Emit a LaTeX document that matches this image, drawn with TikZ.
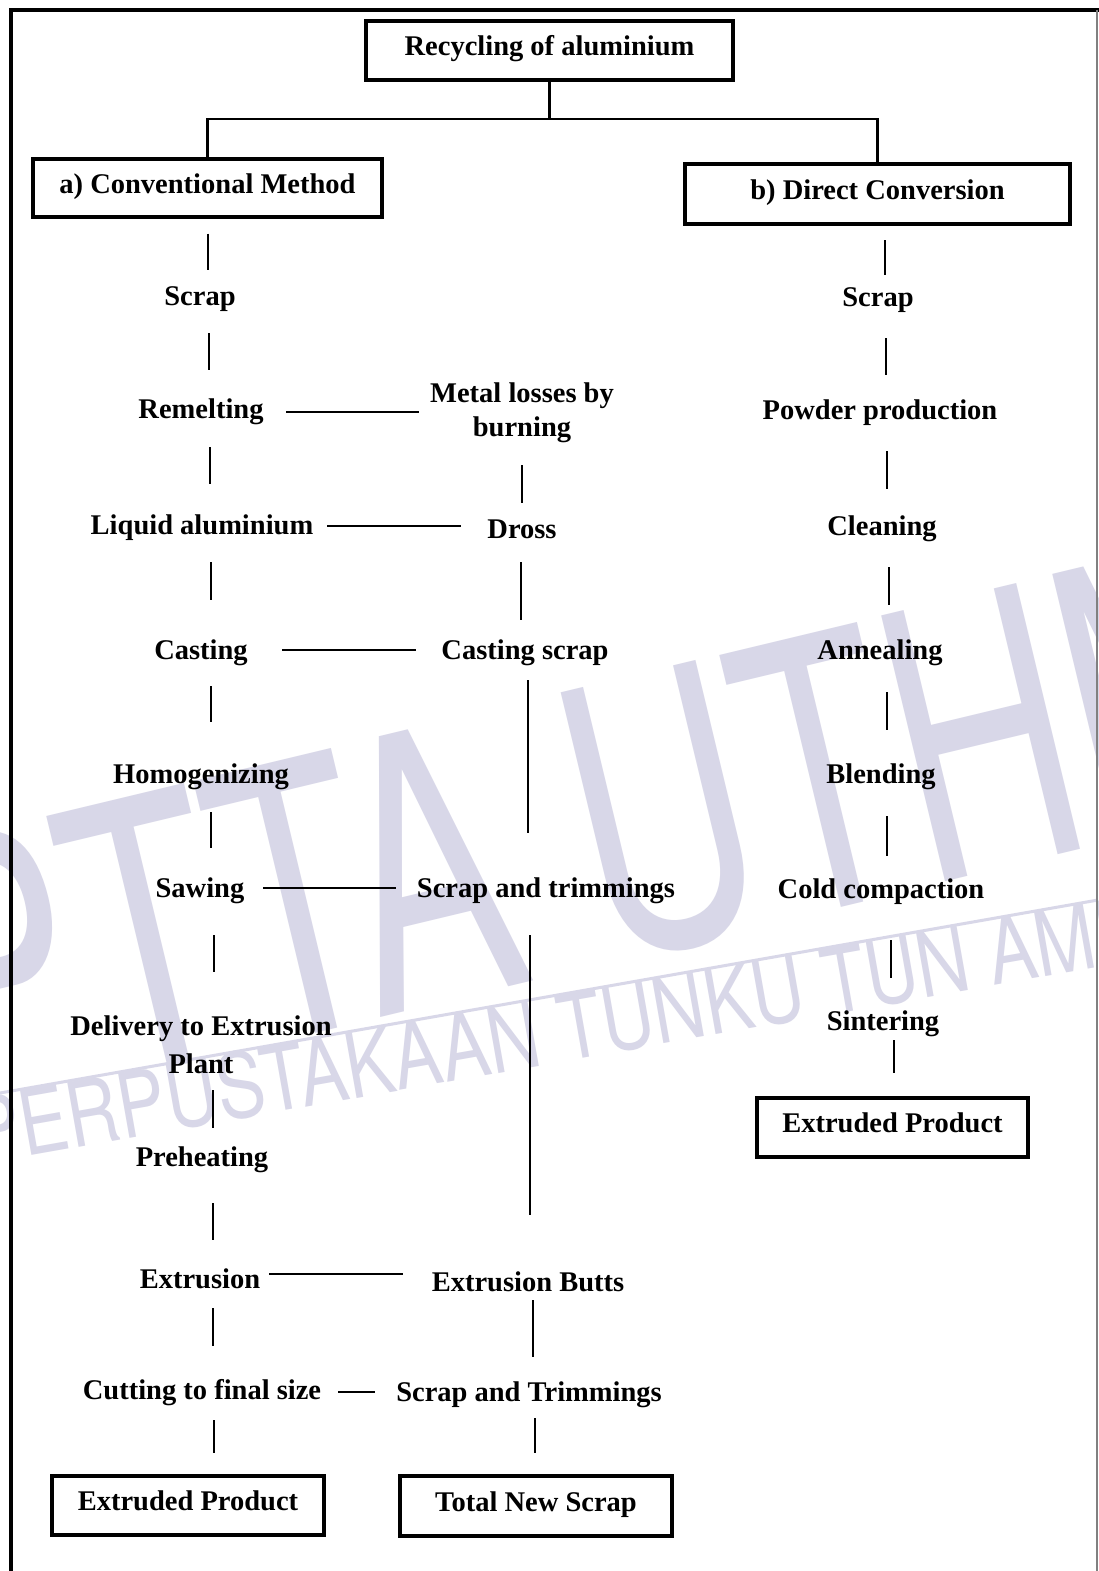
\documentclass[tikz,border=0pt]{standalone}
\usepackage{fontspec}
\setmainfont{Liberation Serif}
\newfontfamily\wmfont{TeX Gyre Heros}
\usetikzlibrary{calc}
\definecolor{wm}{RGB}{216,215,232}
\newcommand\lblfont{\fontsize{28.5}{34}\selectfont\bfseries}
\tikzset{
  lbl/.style={anchor=base, inner sep=0pt, font=\lblfont},
  boxnode/.style={draw, line width=4pt, inner sep=0pt, text height=20pt, text depth=10pt, font=\lblfont},
  conn/.style={line width=2.8pt},
  wmtext/.style={text=wm, inner sep=0pt, anchor=base west},
}
\begin{document}
\begin{tikzpicture}[x=1pt,y=-1pt]
\useasboundingbox (0,0) rectangle (1098,1571);
\fill[white] (0,0) rectangle (1098,1571);
% watermark
\node[wmtext, rotate=13.5] (wmbig) at (-55,1122) {\scalebox{0.66}[1]{\wmfont\fontsize{375}{400}\selectfont PTTA UTHM}};
\node[wmtext, rotate=10] (wmsmall) at (-22,1165) {\scalebox{0.8}[1]{\wmfont\fontsize{90}{100}\selectfont PERPUSTAKAAN TUNKU TUN AMINAH}};
\draw[wm, line width=3pt] (0,1093) -- (1098,900);
% frame
\draw[line width=4pt] (11,1580) -- (11,10) -- (1100,10);
\draw[gray, line width=1.5pt] (1097,10) -- (1097,1580);
% boxes
\node[boxnode, minimum width=367pt, minimum height=59pt] (top) at (549.5,50.5) {Recycling of aluminium};
\node[boxnode, minimum width=349pt, minimum height=58pt] (conv) at (207.5,188) {a) Conventional Method};
\node[boxnode, minimum width=385pt, minimum height=60pt] (dc) at (877.5,194) {b) Direct Conversion};
\node[boxnode, minimum width=271pt, minimum height=59pt] (prodB) at (892.5,1127.5) {Extruded Product};
\node[boxnode, minimum width=272pt, minimum height=59pt] (prodA) at (188,1505.5) {Extruded Product};
\node[boxnode, minimum width=272pt, minimum height=60pt] (newscrap) at (536,1506) {Total New Scrap};
% left column
\node[lbl] (scrapA) at (200,305) {Scrap};
\node[lbl] (remelt) at (201,418) {Remelting};
\node[lbl] (liquid) at (202,534) {Liquid aluminium};
\node[lbl] (casting) at (201,659) {Casting};
\node[lbl] (homog) at (201,783) {Homogenizing};
\node[lbl] (sawing) at (200,897) {Sawing};
\node[lbl] (delivery) at (201,1035) {\renewcommand{\arraystretch}{1.118}\begin{tabular}[t]{@{}c@{}}Delivery to Extrusion\\Plant\end{tabular}};
\node[lbl] (preheat) at (202,1166) {Preheating};
\node[lbl] (extrA) at (200,1288) {Extrusion};
\node[lbl] (cutting) at (202,1399) {Cutting to final size};
% middle column
\node[lbl] (metal) at (522,402) {\begin{tabular}[t]{@{}c@{}}Metal losses by\\burning\end{tabular}};
\node[lbl] (dross) at (522,538) {Dross};
\node[lbl] (castscrap) at (525,659) {Casting scrap};
\node[lbl] (scraptrim) at (546,897) {Scrap and trimmings};
\node[lbl] (butts) at (528,1291) {Extrusion Butts};
\node[lbl] (scraptrimB) at (529,1401) {Scrap and Trimmings};
% right column
\node[lbl] (scrapB) at (878,306) {Scrap};
\node[lbl] (powder) at (880,419) {Powder production};
\node[lbl] (cleaning) at (882,535) {Cleaning};
\node[lbl] (annealing) at (880,659) {Annealing};
\node[lbl] (blending) at (881,783) {Blending};
\node[lbl] (cold) at (881,898) {Cold compaction};
\node[lbl] (sinter) at (883,1030) {Sintering};
% top tree
\draw[conn] (top.south) -- ++(0,37) coordinate (split);
\draw[conn] (conv.north) |- (split) -| (dc.north);
% left verticals
\draw[conn] ($(conv.south)+(0.5,14.5)$) -- ($(scrapA.base)+(8,-35)$);
\draw[conn] ($(scrapA.base)+(9,28)$) -- ($(remelt.base)+(8,-48)$);
\draw[conn] ($(remelt.base)+(9,29)$) -- ($(liquid.base)+(8,-50)$);
\draw[conn] ($(liquid.base)+(9,28)$) -- ($(casting.base)+(10,-59)$);
\draw[conn] ($(casting.base)+(10,27)$) -- ($(homog.base)+(10,-61)$);
\draw[conn] ($(homog.base)+(10,29)$) -- ($(sawing.base)+(11,-49)$);
\draw[conn] ($(sawing.base)+(14,38)$) -- ($(delivery.base)+(13,-63)$);
\draw[conn] ($(delivery.base)+(12,55)$) -- ($(preheat.base)+(11,-38)$);
\draw[conn] ($(preheat.base)+(11,37)$) -- ($(extrA.base)+(13,-48)$);
\draw[conn] ($(extrA.base)+(13,20)$) -- ($(cutting.base)+(11,-53)$);
\draw[conn] ($(cutting.base)+(12,21)$) -- ($(prodA.north)+(26,-21)$);
% middle verticals
\draw[conn] ($(metal.base)+(0,63)$) -- ($(dross.base)+(0,-35)$);
\draw[conn] ($(dross.base)+(-1,24)$) -- ($(castscrap.base)+(-4,-39)$);
\draw[conn] ($(castscrap.base)+(3,21)$) -- ($(scraptrim.base)+(-18,-64)$);
\draw[conn] ($(scraptrim.base)+(-16,38)$) -- ($(butts.base)+(2,-76)$);
\draw[conn] ($(butts.base)+(5,9)$) -- ($(scraptrimB.base)+(4,-44)$);
\draw[conn] ($(scraptrimB.base)+(6,17)$) -- ($(newscrap.north)+(-1,-21)$);
% right verticals
\draw[conn] ($(dc.south)+(7.5,14)$) -- ($(scrapB.base)+(7,-31)$);
\draw[conn] ($(scrapB.base)+(8,32)$) -- ($(powder.base)+(6,-44)$);
\draw[conn] ($(powder.base)+(7,32)$) -- ($(cleaning.base)+(5,-46)$);
\draw[conn] ($(cleaning.base)+(7,32)$) -- ($(annealing.base)+(9,-54)$);
\draw[conn] ($(annealing.base)+(7,33)$) -- ($(blending.base)+(6,-53)$);
\draw[conn] ($(blending.base)+(6,33)$) -- ($(cold.base)+(6,-42)$);
\draw[conn] ($(cold.base)+(10,42)$) -- ($(sinter.base)+(8,-52)$);
\draw[conn] ($(sinter.base)+(11,10)$) -- ($(prodB.north)+(1.5,-23)$);
% horizontals
\draw[conn] ($(remelt.base)+(85,-6)$) -- ($(metal.base)+(-103,10)$);
\draw[conn] ($(liquid.base)+(125,-8)$) -- ($(dross.base)+(-61,-12)$);
\draw[conn] ($(casting.base)+(81,-9)$) -- ($(castscrap.base)+(-109,-9)$);
\draw[conn] ($(sawing.base)+(63,-9)$) -- ($(scraptrim.base)+(-150,-9)$);
\draw[conn] ($(extrA.base)+(69,-14)$) -- ($(butts.base)+(-125,-17)$);
\draw[conn] ($(cutting.base)+(136,-7)$) -- ($(scraptrimB.base)+(-154,-9)$);
\end{tikzpicture}
\end{document}
